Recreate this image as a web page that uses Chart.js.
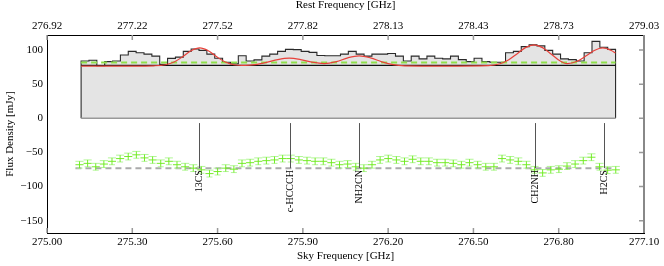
<!DOCTYPE html>
<html>
<head>
<meta charset="utf-8">
<script src="https://cdn.jsdelivr.net/npm/chart.js@4.4.1/dist/chart.umd.min.js"></script>
<style>
html,body{margin:0;padding:0;background:#fff;}
</style>
</head>
<body>
<canvas id="myChart" width="664" height="266"></canvas>
<script>
// spectrum channels (mJy), evenly spaced between specStart and specEnd
const specStart = 275.12, specEnd = 277.00;
const spectrum = [84, 85, 77, 83, 84, 92.6, 98, 96, 94, 91, 79, 87.7, 89.6, 98, 101.4, 99.5,
    94, 88, 82, 80, 91.6, 84, 85.5, 91, 94, 98, 101, 100.6, 98, 96.6, 92, 91.6,
    91.6, 94, 98, 94, 91, 94, 94, 95, 91, 84, 91, 87, 91, 88, 87, 91,
    86, 83, 88, 83, 82, 82, 96, 98, 105, 107.5, 106, 99.5, 94, 87, 86, 84,
    96, 112.7, 104, 101];

// residuals (offset), evenly spaced between resStart and resEnd
const resStart = 275.10, resEnd = 277.015;
const residual = [-68, -66, -71, -67, -63, -59, -56, -53.5, -58, -61, -66, -63, -68, -71, -73, -75.5,
    -81, -78, -73, -74.5, -66, -65, -63, -62, -61, -59, -59, -61, -62, -63, -63, -65,
    -68, -67, -71, -73, -68, -61, -59, -61, -63, -60, -63, -63, -65, -65, -66, -68,
    -65, -68, -71, -71, -59, -61, -63, -68, -75.5, -80, -75.5, -74.5, -70, -67, -62, -57,
    -71, -76, -75.5];
const errBar = 5;

const continuum = 77.4;
const fitLevel = 81.8;
const residBase = -73;

// model fit (red)
const fitX = [275.12, 275.30, 275.377, 275.417, 275.447, 275.477, 275.507, 275.537, 275.567, 275.597,
    275.627, 275.657, 275.697, 275.732, 275.772, 275.812, 275.852, 275.892, 275.932, 275.975,
    276.018, 276.058, 276.098, 276.138, 276.178, 276.218, 276.258, 276.40, 276.553, 276.593,
    276.623, 276.653, 276.683, 276.713, 276.743, 276.773, 276.803, 276.83, 276.865, 276.895,
    276.925, 276.955, 276.985, 277.00];
const fitY = [76.5, 76.5, 76.9, 78.4, 82.4, 90.1, 98.9, 103, 98.9, 90.1,
    82.4, 78.4, 77.4, 78.6, 81.9, 86.0, 88.0, 86.0, 82.2, 80.2,
    83.0, 88.6, 91.5, 88.5, 82.7, 78.5, 76.9, 76.5, 77.1, 79.9,
    85.4, 94.3, 103.5, 107.5, 103.5, 94.3, 84.5, 80.0, 83.5, 91.1,
    99.3, 103, 99.3, 95.5];

// line identifications (sky frequency)
const lineNames = ['13CS', 'c-HCCCH', 'NH2CN', 'CH2NH', 'H2CS'];
const lineFreqs = [275.534, 275.854, 276.097, 276.715, 276.958];
const markerTop = -7, markerBottom = -73;

// axes
const skyTicks = [275.0, 275.3, 275.6, 275.9, 276.2, 276.5, 276.8, 277.1];
const skyLabels = ['275.00', '275.30', '275.60', '275.90', '276.20', '276.50', '276.80', '277.10'];
const restLabels = ['276.92', '277.22', '277.52', '277.82', '278.13', '278.43', '278.73', '279.03'];
const fluxTicks = [100, 50, 0, -50, -100, -150];

const FONT = "'Liberation Serif', 'Times New Roman', serif";

// step outline of the spectrum, closed down to zero at both ends
const w = (specEnd - specStart) / spectrum.length;
const specPts = [{x: specStart, y: 0}];
spectrum.forEach((v, i) => specPts.push({x: specStart + i * w, y: v}));
specPts.push({x: specEnd, y: spectrum[spectrum.length - 1]});
specPts.push({x: specEnd, y: 0});

const fitPts = fitX.map((x, i) => ({x: x, y: fitY[i]}));

const decor = {
    id: 'decor',
    afterDatasetsDraw(chart) {
        const {ctx, chartArea: a, scales: {x, y}} = chart;
        ctx.save();

        // residual error bars: horizontal bin bar, vertical error, caps across the bin
        const rw = (resEnd - resStart) / residual.length;
        residual.forEach((v, i) => {
            const x0 = x.getPixelForValue(resStart + i * rw);
            const x1 = x.getPixelForValue(resStart + (i + 1) * rw);
            const xc = (x0 + x1) / 2;
            const yv = y.getPixelForValue(v);
            const yt = y.getPixelForValue(v + errBar);
            const yb = y.getPixelForValue(v - errBar);
            ctx.lineWidth = 1;
            ctx.strokeStyle = 'rgba(170,245,140,0.9)';
            ctx.beginPath();
            ctx.moveTo(x0, yt); ctx.lineTo(x1, yt);
            ctx.moveTo(xc - 3, yb); ctx.lineTo(xc + 3, yb);
            ctx.stroke();
            ctx.strokeStyle = 'rgba(110,235,30,0.95)';
            ctx.beginPath();
            ctx.moveTo(xc, yt); ctx.lineTo(xc, yb);
            ctx.moveTo(x0, yv); ctx.lineTo(x1, yv);
            ctx.stroke();
        });

        // line markers and labels
        ctx.strokeStyle = '#555';
        ctx.lineWidth = 1;
        ctx.fillStyle = '#000';
        ctx.font = '10px ' + FONT;
        lineFreqs.forEach((f, i) => {
            const px = Math.round(x.getPixelForValue(f)) + 0.5;
            const yb = y.getPixelForValue(markerBottom);
            ctx.beginPath();
            ctx.moveTo(px, y.getPixelForValue(markerTop));
            ctx.lineTo(px, yb);
            ctx.stroke();
            ctx.save();
            ctx.translate(px, yb + 2);
            ctx.rotate(-Math.PI / 2);
            ctx.textAlign = 'right';
            ctx.textBaseline = 'middle';
            ctx.fillText(lineNames[i], 0, 0);
            ctx.restore();
        });

        // inward ticks and right frame
        ctx.strokeStyle = '#999';
        ctx.lineWidth = 1.5;
        ctx.beginPath();
        skyTicks.forEach(v => {
            const px = x.getPixelForValue(v);
            ctx.moveTo(px, a.bottom); ctx.lineTo(px, a.bottom - 5);
            ctx.moveTo(px, a.top); ctx.lineTo(px, a.top + 5);
        });
        fluxTicks.forEach(v => {
            const py = y.getPixelForValue(v);
            ctx.moveTo(a.right, py); ctx.lineTo(a.right - 5, py);
        });
        ctx.stroke();
        ctx.strokeStyle = '#888';
        ctx.lineWidth = 2;
        ctx.beginPath();
        ctx.moveTo(a.right, a.top); ctx.lineTo(a.right, a.bottom);
        ctx.stroke();
        ctx.restore();
    }
};

const ctx = document.getElementById('myChart').getContext('2d');
new Chart(ctx, {
    type: 'line',
    data: {
        datasets: [
            {
                data: specPts, stepped: true, fill: 'origin',
                backgroundColor: '#e4e4e4', borderColor: '#2a2a2a', borderWidth: 1.1,
                pointRadius: 0, order: 10
            },
            {
                data: [{x: specStart, y: 0}, {x: specEnd, y: 0}],
                borderColor: '#999', borderWidth: 1.5, pointRadius: 0, order: 9
            },
            {
                data: [{x: specStart, y: continuum}, {x: specEnd, y: continuum}],
                borderColor: '#111', borderWidth: 1.2, pointRadius: 0, order: 8
            },
            {
                data: [{x: specStart, y: fitLevel}, {x: specEnd, y: fitLevel}],
                borderColor: '#8ee04a', borderWidth: 2, borderDash: [6, 4], pointRadius: 0, order: 7
            },
            {
                data: fitPts, cubicInterpolationMode: 'monotone',
                borderColor: '#e8413a', borderWidth: 1.2, pointRadius: 0, order: 6
            },
            {
                data: [{x: resStart, y: residBase}, {x: specEnd, y: residBase}],
                borderColor: '#aaa', borderWidth: 2, borderDash: [6, 4], pointRadius: 0, order: 5
            }
        ]
    },
    options: {
        responsive: false,
        animation: false,
        layout: {padding: {left: 0, right: 20, top: 0, bottom: 0}},
        plugins: {legend: {display: false}, tooltip: {enabled: false}},
        scales: {
            x: {
                type: 'linear', position: 'bottom', min: 275.0, max: 277.1,
                afterBuildTicks: s => { s.ticks = skyTicks.map(v => ({value: v})); },
                afterFit: s => { s.height = 33; },
                ticks: {callback: (v, i) => skyLabels[i], font: {family: FONT, size: 11}, color: '#000',
                    padding: 3, maxRotation: 0, autoSkip: false},
                grid: {display: true, drawOnChartArea: false, drawTicks: false},
                border: {color: '#000', width: 1},
                title: {display: true, text: 'Sky Frequency [GHz]', font: {family: FONT, size: 11}, color: '#000',
                    padding: {top: 0, bottom: 3}}
            },
            x2: {
                type: 'linear', position: 'top', min: 275.0, max: 277.1,
                afterBuildTicks: s => { s.ticks = skyTicks.map(v => ({value: v})); },
                afterFit: s => { s.height = 35; },
                ticks: {callback: (v, i) => restLabels[i], font: {family: FONT, size: 11}, color: '#000',
                    padding: 2, maxRotation: 0, autoSkip: false},
                grid: {display: true, drawOnChartArea: false, drawTicks: false},
                border: {color: '#000', width: 1},
                title: {display: true, text: 'Rest Frequency [GHz]', font: {family: FONT, size: 11, lineHeight: 1},
                    color: '#000', padding: {top: 0, bottom: 0}}
            },
            y: {
                type: 'linear', position: 'left', min: -168, max: 122,
                afterBuildTicks: s => { s.ticks = fluxTicks.map(v => ({value: v})); },
                afterFit: s => { s.width = 47; },
                ticks: {callback: v => (v < 0 ? '\u2212' + Math.abs(v) : String(v)),
                    font: {family: FONT, size: 11}, color: '#000', padding: 4},
                grid: {display: true, drawOnChartArea: false, drawTicks: false},
                border: {color: '#000', width: 1},
                title: {display: true, text: 'Flux Density [mJy]', font: {family: FONT, size: 11}, color: '#000',
                    padding: {top: 4, bottom: 0}}
            }
        }
    },
    plugins: [decor]
});
</script>
</body>
</html>
